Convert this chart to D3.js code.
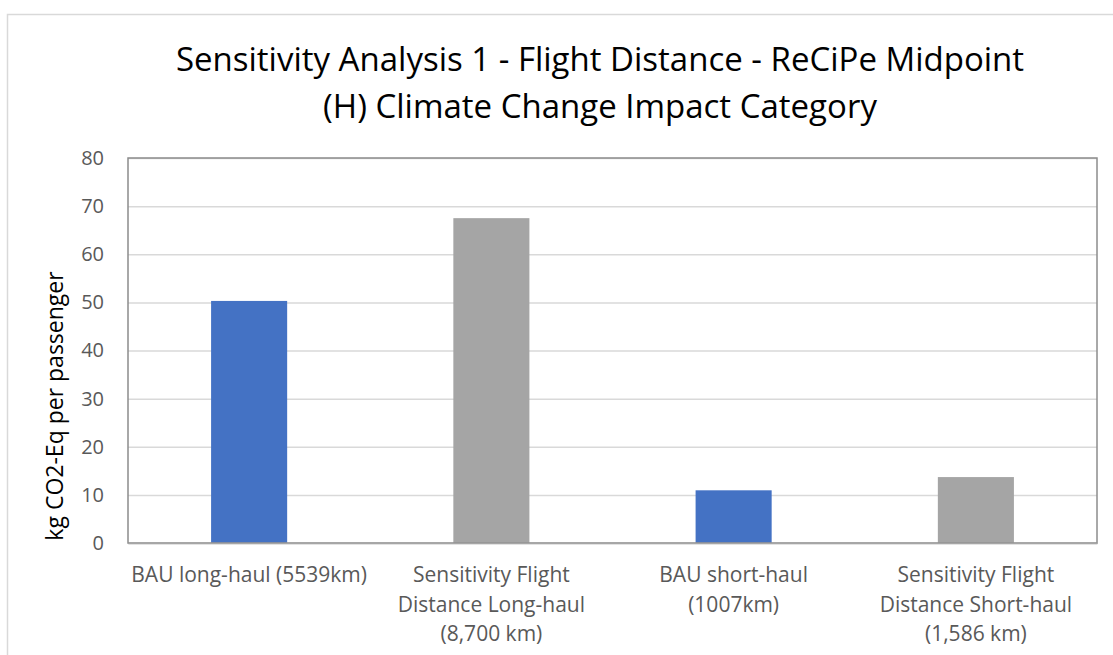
<!DOCTYPE html>
<html>
<head>
<meta charset="utf-8">
<script src="https://cdn.jsdelivr.net/npm/d3@7"></script>
<style>
  html, body { margin: 0; padding: 0; background: #fff; }
  svg { display: block; font-family: "Open Sans", sans-serif; }
</style>
</head>
<body>
<svg id="chart"></svg>
<script>
const titleLines = ["Sensitivity Analysis 1 - Flight Distance - ReCiPe Midpoint", "(H) Climate Change Impact Category"];
const yTitle = "kg CO2-Eq per passenger";
const categories = ["BAU long-haul (5539km)", "Sensitivity Flight Distance Long-haul (8,700 km)", "BAU short-haul (1007km)", "Sensitivity Flight Distance Short-haul (1,586 km)"];
const categoryLines = [
    ["BAU long-haul (5539km)"],
    ["Sensitivity Flight", "Distance Long-haul", "(8,700 km)"],
    ["BAU short-haul", "(1007km)"],
    ["Sensitivity Flight", "Distance Short-haul", "(1,586 km)"]
];
const values = [50.3, 67.5, 10.95, 13.7];
const barColors = ["#4472C4", "#A5A5A5", "#4472C4", "#A5A5A5"];
const yTicks = [0, 10, 20, 30, 40, 50, 60, 70, 80];

const width = 1113;
const height = 655;
const margin = {top: 158, right: 16, bottom: 112, left: 128};

const svg = d3.select("#chart")
    .attr("width", width)
    .attr("height", height);

// outer chart frame (runs off the right and bottom edge)
svg.append("rect")
    .attr("x", 7.5)
    .attr("y", 14.5)
    .attr("width", width + 20)
    .attr("height", height + 20)
    .attr("fill", "#fff")
    .attr("stroke", "#d9d9d9")
    .attr("stroke-width", 1.5);

const x = d3.scaleBand()
    .domain(categories)
    .range([margin.left, width - margin.right])
    .paddingInner(0.686)
    .paddingOuter(0.343);

const y = d3.scaleLinear()
    .domain([0, 80])
    .range([height - margin.bottom, margin.top]);

// gridlines
svg.append("g")
    .attr("class", "grid")
    .attr("transform", `translate(${margin.left}, 0)`)
    .call(d3.axisLeft(y).tickValues(yTicks).tickSize(-(width - margin.right - margin.left)).tickFormat(""))
    .call(g => g.select(".domain").remove())
    .call(g => g.selectAll("line").attr("stroke", "#d9d9d9").attr("stroke-width", 1.5));

// bars
svg.selectAll(".bar")
    .data(values)
    .enter()
    .append("rect")
    .attr("class", "bar")
    .attr("x", (d, i) => x(categories[i]))
    .attr("y", d => y(d))
    .attr("width", x.bandwidth())
    .attr("height", d => y(0) - y(d))
    .attr("fill", (d, i) => barColors[i]);

// plot area border
svg.append("rect")
    .attr("x", margin.left)
    .attr("y", margin.top)
    .attr("width", width - margin.right - margin.left)
    .attr("height", y(0) - margin.top)
    .attr("fill", "none")
    .attr("stroke", "#8c8c8c")
    .attr("stroke-width", 1.5);

// y axis labels
svg.append("g")
    .attr("transform", `translate(${margin.left}, 0)`)
    .call(d3.axisLeft(y).tickValues(yTicks).tickSize(0).tickPadding(24))
    .call(g => g.select(".domain").remove())
    .call(g => g.selectAll("text")
        .attr("fill", "#595959")
        .style("font-family", "'Open Sans', sans-serif")
        .style("font-size", "20px"));

// x axis line + category labels
svg.append("g")
    .attr("transform", `translate(0, ${y(0)})`)
    .call(d3.axisBottom(x).tickSize(0).tickFormat(""))
    .call(g => g.select(".domain").attr("stroke", "#a6a6a6").attr("stroke-width", 1.5));

categories.forEach((c, i) => {
    const t = svg.append("text")
        .attr("x", x(c) + x.bandwidth() / 2)
        .attr("y", y(0) + 39)
        .attr("text-anchor", "middle")
        .attr("fill", "#595959")
        .style("font-size", "21px");
    categoryLines[i].forEach((line, j) => {
        t.append("tspan")
            .attr("x", x(c) + x.bandwidth() / 2)
            .attr("dy", j === 0 ? 0 : 29.5)
            .text(line);
    });
});

// y axis title
svg.append("text")
    .attr("transform", `translate(63, 406) rotate(-90)`)
    .attr("text-anchor", "middle")
    .attr("fill", "#000")
    .style("font-size", "23px")
    .text(yTitle);

// chart title
svg.append("text")
    .attr("x", 600)
    .attr("y", 71)
    .attr("text-anchor", "middle")
    .attr("fill", "#000")
    .style("font-size", "33px")
    .selectAll("tspan")
    .data(titleLines)
    .enter()
    .append("tspan")
    .attr("x", 600)
    .attr("dy", (d, i) => i === 0 ? 0 : 47)
    .text(d => d);
</script>
</body>
</html>
